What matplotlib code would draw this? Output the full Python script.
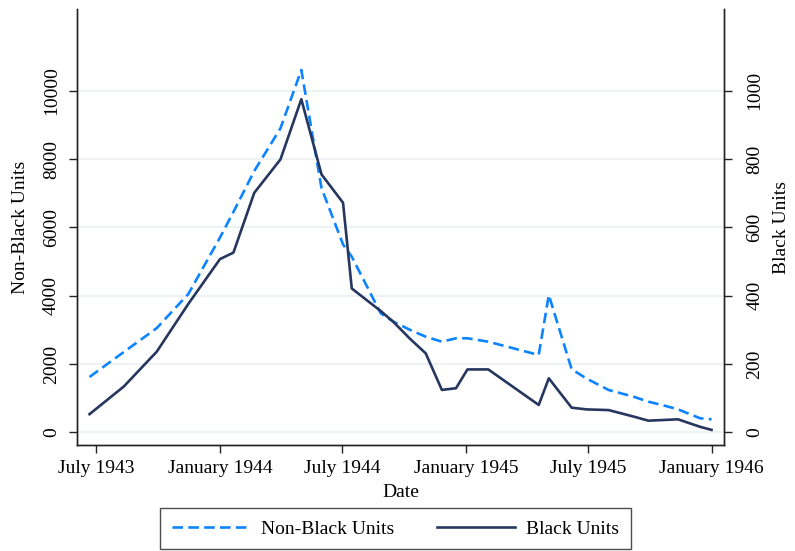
import pandas as pd
import matplotlib
matplotlib.use("Agg")
import matplotlib.pyplot as plt
import matplotlib.dates as mdates
from matplotlib.lines import Line2D

plt.rcParams['font.family'] = ['Liberation Serif', 'DejaVu Serif']

# dates of each observation
dates = ['1943-06-21', '1943-08-11', '1943-09-29', '1943-11-15', '1944-01-01',
         '1944-01-21', '1944-02-21', '1944-03-31', '1944-05-01', '1944-05-31',
         '1944-07-02', '1944-07-15', '1944-08-27', '1944-09-15', '1944-10-10',
         '1944-11-02', '1944-11-26', '1944-12-17', '1945-01-03', '1945-02-03',
         '1945-04-19', '1945-05-04', '1945-06-07', '1945-06-29', '1945-08-01',
         '1945-09-07', '1945-09-29', '1945-10-22', '1945-11-12', '1945-12-15',
         '1946-01-01']
# left axis series
non_black = [1619, 2350, 3050, 4050, 5700, 6450, 7650, 8900, 10606, 7150,
             5500, 5140, 3484, 3238, 2995, 2798, 2652, 2752, 2752, 2652,
             2263, 4019, 1844, 1575, 1238, 1042, 896, 785, 673, 410, 380]
# right axis series
black = [53, 134, 236, 376, 507, 526, 701, 799, 975, 755, 672, 421, 355, 323,
         273, 231, 124, 129, 184, 184, 80, 158, 72, 67, 65, 46, 34, 36, 38,
         16, 7]

left_ticks = [0, 2000, 4000, 6000, 8000, 10000]
right_ticks = [0, 200, 400, 600, 800, 1000]
x_ticks = ['1943-07-01', '1944-01-01', '1944-07-01', '1945-01-01',
           '1945-07-01', '1946-01-01']

x = pd.to_datetime(dates)
blue_c = '#0d84ff'
navy_c = '#26375f'
fs = 14

fig = plt.figure(figsize=(7.95, 5.51), dpi=100)
ax = fig.add_axes([0.0965, 0.1924, 0.8146, 0.7907])
ax2 = ax.twinx()

ax.plot(x, non_black, color=blue_c, lw=1.9, dashes=(4, 2))
ax2.plot(x, black, color=navy_c, lw=1.9)

ax.set_ylim(-372, 12383)
ax2.set_ylim(-37.2, 1238.3)
ax.set_xlim(pd.Timestamp('1943-06-02'), pd.Timestamp('1946-01-20'))

ax.set_yticks(left_ticks)
ax2.set_yticks(right_ticks)
ax.set_xticks(pd.to_datetime(x_ticks))
ax.xaxis.set_major_formatter(mdates.DateFormatter('%B %Y'))

# light horizontal grid
ax.grid(axis='y', color='#ecf1f4', lw=1.3)
ax.grid(axis='x', visible=False)
ax.set_axisbelow(True)

for a in (ax, ax2):
    a.spines['top'].set_visible(False)
    for s in a.spines.values():
        s.set_linewidth(1.0)
        s.set_color('#222222')
    a.tick_params(length=6, width=1.0, color='#222222', labelsize=fs)
ax.tick_params(axis='x', pad=4.5)
ax.tick_params(axis='y', labelrotation=90, pad=6)
ax2.tick_params(axis='y', labelrotation=90, pad=10)
for t in ax.get_yticklabels() + ax2.get_yticklabels():
    t.set_va('center')

ax.set_xlabel('Date', fontsize=fs, va='center')
ax.xaxis.set_label_coords(0.5, -0.11)
ax.set_ylabel('Non-Black Units', fontsize=fs, va='center')
ax.yaxis.set_label_coords(-0.087, 0.5)
ax2.set_ylabel('Black Units', fontsize=fs, va='center')
ax2.yaxis.set_label_coords(1.088, 0.5)

handles = [Line2D([], [], color=blue_c, lw=1.9, dashes=(4, 2)),
           Line2D([], [], color=navy_c, lw=1.9)]
leg = fig.legend(handles, ['Non-Black Units', 'Black Units'], ncol=2,
                 loc='lower center', bbox_to_anchor=(0.4975, 0.003),
                 borderaxespad=0, fontsize=fs, frameon=True, fancybox=False,
                 edgecolor='#222222', handlelength=4, handletextpad=0.6,
                 columnspacing=2.2, borderpad=0.6)
leg.get_frame().set_linewidth(1.0)

fig.savefig('out.png', dpi=100)
